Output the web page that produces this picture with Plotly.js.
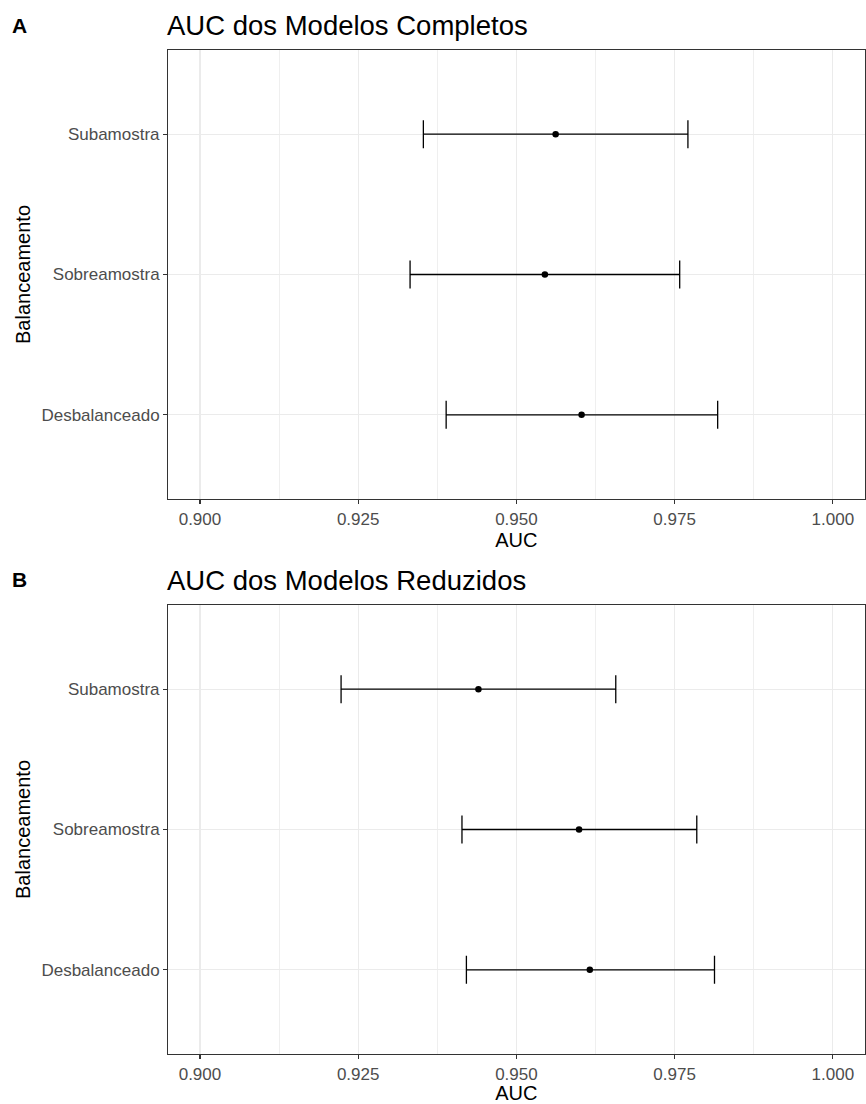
<!DOCTYPE html>
<html>
<head>
<meta charset="utf-8">
<script src="https://cdn.plot.ly/plotly-3.0.1.min.js"></script>
<style>html,body{margin:0;padding:0;background:#fff;}#chart{width:866px;height:1104px;}</style>
</head>
<body>
<div id="chart"></div>
<script>
// Categories (bottom to top)
const categories = ['Desbalanceado', 'Sobreamostra', 'Subamostra'];

// Panel A: AUC dos Modelos Completos
const completosMean  = [0.9603, 0.9545, 0.9562];
const completosLower = [0.9389, 0.9332, 0.9353];
const completosUpper = [0.9818, 0.9758, 0.9771];

// Panel B: AUC dos Modelos Reduzidos
const reduzidosMean  = [0.9616, 0.9599, 0.9440];
const reduzidosLower = [0.9421, 0.9414, 0.9223];
const reduzidosUpper = [0.9813, 0.9785, 0.9657];

// Tick labels
const xTickVals = [0.900, 0.925, 0.950, 0.975, 1.000];
const xTickText = ['0.900', '0.925', '0.950', '0.975', '1.000'];

const panelTitles = ['AUC dos Modelos Completos', 'AUC dos Modelos Reduzidos'];
const panelLetters = ['A', 'B'];
const xTitle = 'AUC';
const yTitle = 'Balanceamento';

function trace(mean, lower, upper, xa, ya) {
  return {
    type: 'scatter', mode: 'markers',
    x: mean, y: categories, xaxis: xa, yaxis: ya,
    marker: {color: '#000000', size: 6.5},
    error_x: {
      type: 'data', symmetric: false,
      array: upper.map((u, i) => u - mean[i]),
      arrayminus: mean.map((m, i) => m - lower[i]),
      color: '#000000', thickness: 1.3, width: 14
    },
    hoverinfo: 'skip', showlegend: false
  };
}

const data = [
  trace(completosMean, completosLower, completosUpper, 'x', 'y'),
  trace(reduzidosMean, reduzidosLower, reduzidosUpper, 'x2', 'y2')
];

const W = 866, H = 1104;
const xDom = [168.3 / W, 864.5 / W];
const domA = [1 - 499 / H, 1 - 50 / H];
const domB = [1 - 1054 / H, 1 - 605 / H];

function xaxis(anchor) {
  return {
    domain: xDom, anchor: anchor,
    range: [0.895, 1.005],
    tickvals: xTickVals, ticktext: xTickText,
    ticks: 'outside', ticklen: 4, tickwidth: 1.1, tickcolor: '#333333',
    showline: true, mirror: true, linecolor: '#333333', linewidth: 1.3,
    showgrid: true, gridcolor: '#ebebeb', gridwidth: 1.1,
    minor: {tick0: 0.9, dtick: 0.0125, showgrid: true, gridcolor: '#ebebeb', gridwidth: 0.8, ticks: ''},
    zeroline: false,
    tickfont: {size: 17, color: '#4d4d4d'},
    title: {text: xTitle, font: {size: 20, color: '#000000'}, standoff: 4}
  };
}
function yaxis(anchor, dom) {
  return {
    domain: dom, anchor: anchor,
    type: 'category', categoryorder: 'array', categoryarray: categories,
    range: [-0.6, 2.6],
    ticks: 'outside', ticklen: 4, tickwidth: 1.1, tickcolor: '#333333',
    showline: true, mirror: true, linecolor: '#333333', linewidth: 1.3,
    showgrid: true, gridcolor: '#ebebeb', gridwidth: 1.1,
    zeroline: false,
    tickfont: {size: 17, color: '#4d4d4d'},
    title: {text: yTitle, font: {size: 20, color: '#000000'}, standoff: 5}
  };
}

const layout = {
  width: W, height: H,
  margin: {l: 0, r: 0, t: 0, b: 0},
  paper_bgcolor: '#ffffff', plot_bgcolor: '#ffffff',
  font: {family: 'Liberation Sans, Arial, sans-serif', color: '#000000'},
  showlegend: false,
  xaxis: xaxis('y'), yaxis: yaxis('x', domA),
  xaxis2: xaxis('y2'), yaxis2: yaxis('x2', domB),
  annotations: [
    {text: panelTitles[0], xref: 'paper', yref: 'paper', x: 165 / W, y: 1 - 26 / H,
     xanchor: 'left', yanchor: 'middle', showarrow: false, font: {size: 27.5, color: '#000000'}},
    {text: panelTitles[1], xref: 'paper', yref: 'paper', x: 165 / W, y: 1 - 580 / H,
     xanchor: 'left', yanchor: 'middle', showarrow: false, font: {size: 27.5, color: '#000000'}},
    {text: '<b>' + panelLetters[0] + '</b>', xref: 'paper', yref: 'paper', x: 10 / W, y: 1 - 25 / H,
     xanchor: 'left', yanchor: 'middle', showarrow: false, font: {size: 21, color: '#000000'}},
    {text: '<b>' + panelLetters[1] + '</b>', xref: 'paper', yref: 'paper', x: 10 / W, y: 1 - 579 / H,
     xanchor: 'left', yanchor: 'middle', showarrow: false, font: {size: 21, color: '#000000'}}
  ]
};

Plotly.newPlot('chart', data, layout, {displayModeBar: false, staticPlot: true});
</script>
</body>
</html>
